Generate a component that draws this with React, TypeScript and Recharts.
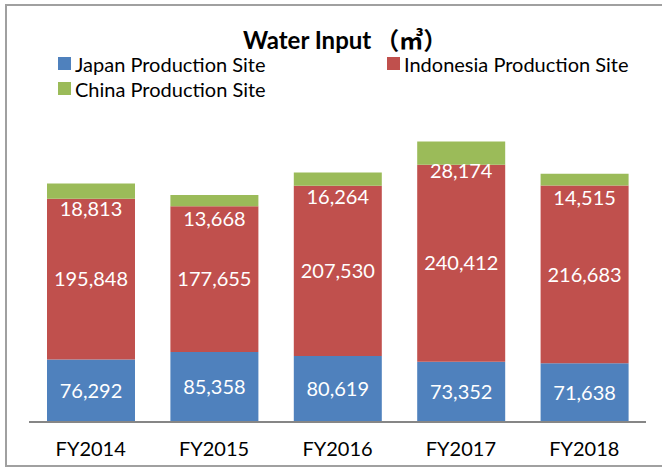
import React from "react";
import { BarChart, Bar, XAxis, YAxis, LabelList } from "recharts";

const categories = ["FY2014", "FY2015", "FY2016", "FY2017", "FY2018"];
const japan = [76292, 85358, 80619, 73352, 71638];
const indonesia = [195848, 177655, 207530, 240412, 216683];
const china = [18813, 13668, 16264, 28174, 14515];

const seriesNames = ["Japan Production Site", "Indonesia Production Site", "China Production Site"];
const colors = ["#4F81BD", "#C0504D", "#9BBB59"];

const data = categories.map((c, i) => ({
  cat: c,
  japan: japan[i],
  indonesia: indonesia[i],
  china: china[i],
}));

const FONT = "Lato, 'Open Sans', sans-serif";
const fmt = (v: number) => v.toLocaleString("en-US");

const ChinaLabel = (props: any) => {
  const { x, y, width, height, value } = props;
  return (
    <text
      x={x + width / 2}
      y={y + height / 2 + 17}
      fill="#fff"
      fontSize={20}
      fontFamily={FONT}
      textAnchor="middle"
      dominantBaseline="central"
    >
      {fmt(value)}
    </text>
  );
};

const legendPos = [
  { left: 58, top: 57 },
  { left: 387, top: 57 },
  { left: 58, top: 82 },
];

export default function App() {
  return (
    <div style={{ position: "absolute", left: 0, top: 0, width: 662, height: 468, overflow: "hidden", background: "#fff" }}>
      <div
        style={{
          position: "absolute",
          left: 5,
          top: 4,
          width: 670,
          height: 463,
          border: "2px solid #a0a0a0",
          boxSizing: "border-box",
        }}
      />
      <div style={{ position: "absolute", left: 0, top: 0 }}>
        <BarChart
          width={662}
          height={468}
          data={data}
          margin={{ top: 94, right: 16, bottom: 16, left: 29 }}
          barSize={88}
        >
          <XAxis
            dataKey="cat"
            height={30}
            tickLine={false}
            axisLine={{ stroke: "#868686", strokeWidth: 2 }}
            tick={{ fill: "#000", fontSize: 20, fontFamily: FONT }}
            tickMargin={14}
          />
          <YAxis hide domain={[0, 400000]} />
          <Bar dataKey="japan" stackId="a" fill={colors[0]} isAnimationActive={false}>
            <LabelList dataKey="japan" position="center" fill="#fff" fontSize={20} fontFamily={FONT} formatter={fmt} />
          </Bar>
          <Bar dataKey="indonesia" stackId="a" fill={colors[1]} isAnimationActive={false}>
            <LabelList dataKey="indonesia" position="center" fill="#fff" fontSize={20} fontFamily={FONT} formatter={fmt} />
          </Bar>
          <Bar dataKey="china" stackId="a" fill={colors[2]} isAnimationActive={false}>
            <LabelList dataKey="china" content={ChinaLabel} />
          </Bar>
        </BarChart>
      </div>
      <div
        style={{
          position: "absolute",
          left: 243,
          top: 21,
          fontFamily: FONT,
          fontWeight: 700,
          fontSize: 24,
          color: "#000",
          whiteSpace: "nowrap",
        }}
      >
        Water Input<span style={{ fontFamily: "'Noto Sans CJK JP', sans-serif", marginLeft: 4 }}>（㎥）</span>
      </div>
      {seriesNames.map((n, i) => (
        <div
          key={n}
          style={{
            position: "absolute",
            left: legendPos[i].left,
            top: legendPos[i].top,
            display: "flex",
            alignItems: "center",
            fontFamily: FONT,
            fontSize: 20,
            color: "#000",
            height: 13,
            whiteSpace: "nowrap",
          }}
        >
          <span style={{ display: "inline-block", width: 13, height: 13, background: colors[i], marginRight: 4 }} />
          <span>{n}</span>
        </div>
      ))}
    </div>
  );
}
